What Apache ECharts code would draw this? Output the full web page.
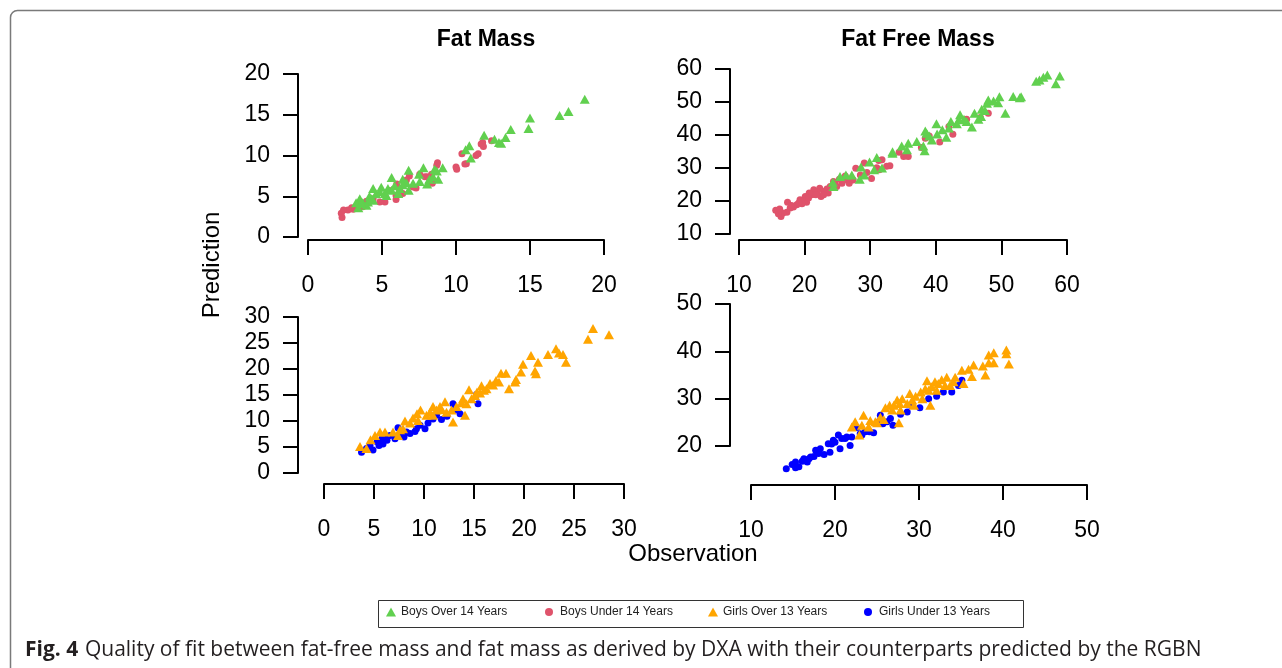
<!DOCTYPE html>
<html>
<head>
<meta charset="utf-8">
<script src="https://cdn.jsdelivr.net/npm/echarts@6/dist/echarts.min.js"></script>
<style>
  html, body { margin: 0; padding: 0; background: #fff; }
  #chart { width: 1282px; height: 668px; }
</style>
</head>
<body>
<div id="chart"></div>
<script>
// points: [observation, prediction]
const fmBoysOver = [
  [18.7,16.9],[17.6,15.4],[17.0,14.9],[15.0,14.6],[14.9,13.3],[13.7,13.2],[13.35,12.2],[12.9,11.6],
  [13.05,11.5],[12.6,12.0],[11.9,12.5],[11.0,9.7],[10.9,11.2],[10.65,10.7],[9.1,8.5],[8.8,7.1],
  [8.7,8.1],[8.55,8.3],[7.8,8.5],[8.05,6.5],[7.5,7.7],[6.8,8.2],[6.8,5.75],[6.65,6.65],[6.4,7.1],
  [5.65,7.3],[5.65,5.75],[5.3,5.1],[4.95,6.1],[4.6,5.3],[4.15,5.0],[4.05,4.3],[3.7,4.2],[3.5,4.7],
  [3.4,3.6],[3.95,3.9],[4.4,4.5],[4.85,5.55],[5.4,5.95],[5.85,6.3],[6.2,5.95],[7.1,6.6],[7.55,6.8],
  [8.2,7.1],[8.45,7.4],[4.4,5.95],[5.2,5.35],[6.4,6.4],[6.1,5.35],[3.25,4.2],[3.6,4.1],[4.3,4.7]
];
const fmBoysUnder = [
  [12.4,11.8],[11.8,11.6],[11.7,11.4],[11.85,11.1],[11.5,10.2],[11.35,10.0],[10.4,10.2],[10.7,9.0],
  [10.6,8.95],[10.0,8.6],[10.05,8.3],[8.75,9.1],[8.7,8.8],[8.4,6.6],[8.35,7.7],[8.2,7.3],[8.05,7.4],
  [7.9,7.4],[7.55,7.7],[7.3,6.0],[6.85,7.5],[6.65,7.0],[6.0,6.5],[5.95,4.6],[5.95,5.1],[5.5,5.7],
  [5.2,4.3],[4.4,4.7],[3.95,4.4],[3.7,3.7],[3.25,3.7],[3.05,3.4],[2.95,3.6],[2.7,3.3],[2.4,3.3],
  [2.25,2.9],[2.3,2.4],[3.4,4.1],[6.4,5.35],[7.1,6.15],[4.85,4.3],[6.2,5.75]
];
const ffmBoysOver = [
  [58.9,57.9],[58.3,55.5],[57.0,58.2],[56.4,57.5],[55.8,56.7],[55.3,56.3],[53.0,51.6],[52.8,51.3],
  [51.8,51.7],[50.6,46.6],[49.7,51.6],[49.5,49.8],[48.8,50.3],[48.0,50.6],[47.8,49.6],[47.5,47.4],
  [47.0,47.8],[46.9,45.6],[46.5,44.8],[45.9,46.6],[45.5,42.4],[44.7,44.1],[44.3,44.8],[43.7,46.1],
  [43.5,44.6],[43.2,43.4],[42.3,44.1],[42.0,42.1],[41.6,39.3],[41.0,41.6],[40.2,40.3],[40.1,43.4],
  [39.4,38.5],[39.0,39.7],[38.6,40.5],[38.4,41.2],[38.3,35.2],[38.1,36.7],[37.1,38.0],[35.8,37.5],
  [35.6,35.5],[34.8,36.7],[33.4,34.5],[33.4,34.9],[31.8,30.0],[31.0,33.2],[30.6,29.5],[29.9,31.8],
  [29.1,27.9],[28.6,30.3],[28.4,26.6],[27.2,27.9],[26.3,27.9],[25.4,27.4],[24.3,25.7],[24.4,24.4]
];
const ffmBoysUnder = [
  [48.0,46.6],[46.8,45.3],[44.7,44.8],[42.6,40.2],[42.0,42.6],[40.6,37.9],[39.0,39.7],[38.4,39.0],
  [37.8,36.2],[35.8,33.5],[35.1,33.5],[34.4,34.8],[33.0,30.7],[32.5,30.5],[31.8,32.5],[31.4,29.5],
  [31.3,32.3],[31.0,30.1],[30.2,26.8],[29.5,28.6],[29.1,31.5],[28.5,27.9],[27.8,29.9],[27.4,26.4],
  [26.8,25.4],[26.4,26.6],[26.2,27.6],[25.7,25.4],[25.3,26.6],[24.9,24.4],[24.4,25.9],[23.9,24.4],
  [23.4,23.6],[22.9,22.9],[22.5,21.4],[22.3,23.9],[21.9,22.7],[21.4,23.4],[21.1,21.9],[20.7,22.4],
  [20.3,19.6],[20.1,21.4],[19.9,19.9],[19.6,19.2],[19.3,20.4],[18.8,18.9],[18.3,18.2],[17.8,17.9],
  [17.4,19.6],[17.3,16.6],[16.7,16.4],[16.4,15.3],[16.0,16.1],[15.6,17.2],[16.2,17.6],[18.0,18.6],
  [19.1,19.4],[20.6,20.9],[21.7,21.9],[23.6,22.4],[24.6,25.2],[25.9,26.4],[27.2,26.6],[22.9,21.9]
];
const fmGirlsOver = [
  [28.5,26.6],[26.9,27.8],[26.4,25.7],[24.2,21.3],[23.9,22.8],[23.5,23.1],[23.2,23.9],[22.4,22.8],
  [21.4,21.3],[21.2,19.1],[21.1,19.6],[20.7,22.6],[19.9,20.9],[19.7,19.4],[19.2,18.0],[19.1,17.5],
  [18.5,16.2],[18.2,19.2],[17.7,19.2],[17.5,17.5],[17.2,17.8],[16.9,16.9],[16.6,17.2],[16.25,16.2],
  [15.75,16.8],[15.6,15.4],[15.1,14.9],[14.75,14.3],[14.5,16.0],[14.1,11.1],[13.9,14.3],[13.75,13.5],
  [13.25,12.8],[12.9,9.8],[12.25,11.7],[12.1,13.7],[11.6,12.8],[11.25,12.1],[10.9,12.8],[10.6,11.7],
  [10.25,11.1],[9.65,12.1],[9.4,10.1],[8.9,10.6],[8.6,9.6],[8.1,10.0],[7.9,8.5],[7.4,7.2],[6.9,7.9],
  [6.1,7.9],[5.6,7.9],[5.1,7.2],[4.65,6.4],[4.25,4.7],[3.6,5.1],[7.6,8.3],[9.3,11.4],[10.9,11.1],
  [11.75,12.2],[12.75,12.1],[14.25,13.3],[15.3,15.6],[16.0,15.9]
];
const fmGirlsUnder = [
  [15.25,15.1],[15.4,13.3],[13.6,11.4],[13.1,12.1],[12.9,13.3],[12.3,10.9],[11.75,10.3],[11.25,11.1],
  [10.9,10.4],[10.4,9.6],[10.1,8.5],[9.6,9.2],[9.1,8.0],[8.6,7.6],[8.0,6.9],[7.6,7.6],[7.4,8.7],
  [7.1,6.6],[6.6,7.2],[6.3,6.3],[5.9,5.6],[5.8,6.6],[5.5,5.3],[5.3,6.0],[4.9,4.4],[4.6,5.3],
  [4.25,4.7],[3.75,4.0],[5.75,6.0],[6.1,6.8],[8.25,7.9],[9.25,8.5]
];
const ffmGirlsOver = [
  [40.7,37.3],[40.4,40.3],[40.4,39.5],[38.9,39.7],[38.9,37.6],[38.3,39.2],[38.3,37.6],[37.9,35.0],
  [37.6,36.9],[36.5,37.1],[36.3,34.7],[35.9,36.2],[35.1,36.0],[35.3,33.2],[34.3,34.5],[34.1,33.6],
  [33.3,34.5],[33.1,32.8],[32.7,34.0],[32.3,33.2],[31.9,33.6],[31.5,32.5],[30.95,33.8],[31.15,31.8],
  [31.35,28.6],[30.4,30.0],[30.2,31.4],[29.6,30.5],[29.2,29.7],[28.9,31.1],[28.6,29.0],[28.0,30.0],
  [27.7,29.0],[27.4,29.7],[27.6,24.9],[27.0,28.6],[26.8,27.6],[26.5,28.6],[26.0,28.1],[25.8,25.6],
  [25.4,26.1],[24.8,25.1],[24.2,25.4],[24.0,24.0],[23.4,26.5],[23.2,24.4],[22.9,22.3],[22.4,25.1],
  [22.0,24.0],[25.0,24.9],[27.8,27.6],[29.4,28.6],[32.1,31.8],[33.7,32.8],[30.75,32.1]
];
const ffmGirlsUnder = [
  [35.1,33.9],[34.7,32.8],[33.9,31.4],[32.9,31.4],[32.1,30.5],[31.15,30.0],[30.1,28.1],[29.0,28.6],
  [28.6,27.2],[27.8,26.7],[26.9,24.4],[26.6,25.8],[26.2,25.1],[25.7,24.7],[25.4,26.5],[25.2,25.1],
  [24.6,22.8],[24.1,23.0],[23.6,23.0],[23.2,22.3],[22.6,23.9],[22.0,21.9],[21.8,20.1],[21.4,21.9],
  [20.8,21.6],[20.6,19.4],[20.4,22.3],[20.0,20.8],[19.6,20.4],[19.4,18.7],[19.2,20.5],[18.7,18.2],
  [18.25,19.4],[18.05,18.4],[17.7,19.1],[17.5,17.8],[17.1,17.7],[16.7,16.6],[16.3,17.3],[16.1,16.8],
  [15.7,15.6],[15.3,16.6],[15.3,15.4],[14.9,16.1],[14.2,15.2],[16.9,17.3],[17.9,18.7],[19.8,21.2],
  [21.2,21.6],[23.0,22.6]
];

const groupNames = ["Boys Over 14 Years", "Boys Under 14 Years", "Girls Over 13 Years", "Girls Under 13 Years"];
const groupColors = ["#61D04F", "#DF536B", "#FFA500", "#0000FF"];
const panelTitles = ["Fat Mass", "Fat Free Mass"];

// axis ranges per panel: [xmin, xmax, xstep, ymin, ymax, ystep]
const panelAxes = [
  [0, 20, 5, 0, 20, 5],
  [10, 60, 10, 10, 60, 10],
  [0, 30, 5, 0, 30, 5],
  [10, 50, 10, 20, 50, 10]
];

const FONT = "Liberation Sans";

// grids sized to the tick range, axes pushed out like base R plots
const grids = [
  { left: 308, top: 74, width: 296, height: 163 },
  { left: 739, top: 69, width: 328, height: 165 },
  { left: 324, top: 317, width: 300, height: 156 },
  { left: 751, top: 304, width: 336, height: 142 }
];
const xOffsets = [3, 6, 11, 39];
const yOffsets = [10, 9, 26, 21];

function axisCommon() {
  return {
    axisLine: { show: true, onZero: false, lineStyle: { color: "#000", width: 2 } },
    axisTick: { show: true, length: 15, lineStyle: { color: "#000", width: 2 } },
    splitLine: { show: false },
    axisLabel: { color: "#000", fontSize: 23, fontFamily: FONT, showMinLabel: true, showMaxLabel: true }
  };
}

const xAxes = panelAxes.map((a, i) => {
  const ax = axisCommon();
  ax.axisLabel.margin = 34;
  return Object.assign(ax, { type: "value", gridIndex: i, min: a[0], max: a[1], interval: a[2], offset: xOffsets[i] });
});
const yAxes = panelAxes.map((a, i) => {
  const ax = axisCommon();
  ax.axisLabel.margin = 28;
  return Object.assign(ax, { type: "value", gridIndex: i, min: a[3], max: a[4], interval: a[5], offset: yOffsets[i] });
});

function scatter(name, data, idx, color, symbol, size) {
  return {
    name: name,
    type: "scatter",
    xAxisIndex: idx,
    yAxisIndex: idx,
    data: data,
    symbol: symbol,
    symbolSize: symbol === "triangle" ? [10, 9] : size,
    clip: false,
    itemStyle: { color: color, opacity: 1 },
    emphasis: { disabled: true },
    animation: false
  };
}

const series = [
  scatter(groupNames[1], fmBoysUnder, 0, groupColors[1], "circle", 7),
  scatter(groupNames[0], fmBoysOver, 0, groupColors[0], "triangle"),
  scatter(groupNames[1], ffmBoysUnder, 1, groupColors[1], "circle", 7),
  scatter(groupNames[0], ffmBoysOver, 1, groupColors[0], "triangle"),
  scatter(groupNames[3], fmGirlsUnder, 2, groupColors[3], "circle", 7),
  scatter(groupNames[2], fmGirlsOver, 2, groupColors[2], "triangle"),
  scatter(groupNames[3], ffmGirlsUnder, 3, groupColors[3], "circle", 7),
  scatter(groupNames[2], ffmGirlsOver, 3, groupColors[2], "triangle")
];

// one legend per entry so the columns sit where R put them
const legendLefts = [386, 545, 708, 864];
const legends = groupNames.map((n, i) => ({
  data: [{ name: n, icon: i % 2 === 0 ? "triangle" : "circle" }],
  left: legendLefts[i],
  top: 606,
  padding: 0,
  itemWidth: i % 2 === 0 ? 10 : 8,
  itemHeight: i % 2 === 0 ? 9 : 8,
  itemGap: 0,
  selectedMode: false,
  textStyle: { fontSize: 12, fontFamily: FONT, color: "#222", padding: [0, 0, 0, i % 2 === 0 ? 0 : 2] }
}));

const titleStyle = { fontFamily: FONT, fontWeight: "bold", fontSize: 23, fill: "#000", align: "center", verticalAlign: "middle" };

const chart = echarts.init(document.getElementById("chart"), null, { renderer: "canvas" });
chart.setOption({
  backgroundColor: "#fff",
  animation: false,
  grid: grids.map(g => Object.assign({ outerBoundsMode: "none", containLabel: false }, g)),
  xAxis: xAxes,
  yAxis: yAxes,
  legend: legends,
  series: series,
  graphic: [
    // figure frame with the rounded top-left corner
    { type: "rect", silent: true, shape: { x: 10.5, y: 10.5, width: 1300, height: 700, r: [7, 0, 0, 0] },
      style: { fill: "none", stroke: "#7a7a7a", lineWidth: 1.5 } },
    // legend box
    { type: "rect", silent: true, shape: { x: 378.5, y: 600.5, width: 645, height: 27 },
      style: { fill: "none", stroke: "#333", lineWidth: 1 } },
    { type: "text", silent: true, x: 486, y: 40, style: Object.assign({ text: panelTitles[0] }, titleStyle) },
    { type: "text", silent: true, x: 918, y: 40, style: Object.assign({ text: panelTitles[1] }, titleStyle) },
    { type: "text", silent: true, x: 212, y: 265, rotation: Math.PI / 2,
      style: { text: "Prediction", fontFamily: FONT, fontSize: 24, fill: "#000", align: "center", verticalAlign: "middle" } },
    { type: "text", silent: true, x: 693, y: 554,
      style: { text: "Observation", fontFamily: FONT, fontSize: 24, fill: "#000", align: "center", verticalAlign: "middle" } },
    { type: "text", silent: true, x: 25, y: 650,
      style: {
        text: "{b|Fig. 4}  {n|Quality of fit between fat-free mass and fat mass as derived by DXA with their counterparts predicted by the RGBN}",
        verticalAlign: "middle",
        rich: {
          b: { fontFamily: "Open Sans", fontWeight: "bold", fontSize: 21, fill: "#231f20" },
          n: { fontFamily: "Open Sans", fontSize: 21, fill: "#231f20" }
        }
      } }
  ]
});
</script>
</body>
</html>
